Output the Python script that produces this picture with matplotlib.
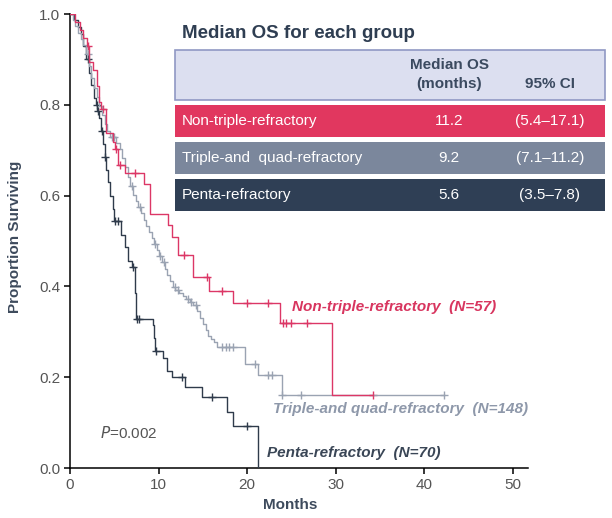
import numpy as np
import matplotlib
matplotlib.use("Agg")
import matplotlib.pyplot as plt
from matplotlib.patches import Rectangle

plt.rcParams['font.family'] = ['Liberation Sans', 'DejaVu Sans']

# Kaplan-Meier steps (months, proportion surviving)
red_t = [0, 0.6, 1.1, 1.5, 1.9, 2.2, 2.6, 3.0, 3.3, 3.5, 4.1, 4.8, 5.1, 5.4, 6.2,
         8.4, 9.0, 11.1, 11.5, 12.2, 13.9, 15.7, 18.4, 23.7, 29.6]
red_s = [1.0, 0.982, 0.965, 0.947, 0.930, 0.895, 0.877, 0.842, 0.807, 0.790, 0.737,
         0.719, 0.702, 0.667, 0.649, 0.625, 0.560, 0.535, 0.509, 0.470, 0.420, 0.390,
         0.363, 0.320, 0.160]
red_end = 34.2
red_cens = [2.0, 3.7, 5.2, 5.6, 7.3, 12.9, 15.5, 17.2, 20.0, 22.3, 24.1, 24.4, 25.0,
            26.8, 34.2]

gray_t = [0, 0.3, 0.6, 0.9, 1.2, 1.5, 1.8, 2.1, 2.4, 2.7, 3.0, 3.3, 3.6, 3.9, 4.2,
          4.5, 5.2, 5.6, 5.9, 6.2, 6.5, 6.8, 7.1, 7.4, 7.7, 8.0, 8.3, 8.6, 8.9, 9.2,
          9.5, 9.8, 10.1, 10.4, 10.7, 11.0, 11.3, 11.6, 11.9, 12.3, 12.7, 13.1, 13.5,
          13.9, 14.3, 14.7, 15.0, 15.3, 15.6, 15.9, 16.2, 16.6, 19.8, 21.2, 23.9]
gray_s = [1.0, 0.986, 0.973, 0.959, 0.946, 0.932, 0.912, 0.885, 0.858, 0.838, 0.818,
          0.797, 0.777, 0.757, 0.743, 0.730, 0.716, 0.703, 0.682, 0.662, 0.642, 0.622,
          0.601, 0.588, 0.574, 0.561, 0.547, 0.534, 0.520, 0.507, 0.493, 0.480, 0.466,
          0.453, 0.439, 0.426, 0.412, 0.399, 0.392, 0.385, 0.378, 0.372, 0.365, 0.358,
          0.345, 0.331, 0.318, 0.304, 0.291, 0.284, 0.277, 0.267, 0.230, 0.205, 0.160]
gray_end = 42.2
gray_cens = [2.0, 4.7, 5.0, 7.0, 7.9, 9.6, 10.2, 10.6, 11.8, 12.2, 13.3, 13.7, 14.2,
             17.2, 17.6, 18.0, 18.4, 20.9, 22.3, 22.8, 23.9, 26.1, 42.2]

penta_t = [0, 0.5, 0.9, 1.2, 1.5, 1.8, 2.1, 2.4, 2.7, 2.9, 3.1, 3.3, 3.5, 3.7, 3.9,
           4.1, 4.3, 4.5, 4.8, 5.0, 5.8, 6.2, 6.6, 7.0, 7.3, 7.5, 9.4, 9.5, 9.6, 10.5,
           11.0, 11.5, 13.0, 14.9, 17.7, 18.4, 21.2]
penta_s = [1.0, 0.986, 0.971, 0.957, 0.929, 0.900, 0.871, 0.843, 0.814, 0.800, 0.786,
           0.771, 0.743, 0.714, 0.686, 0.657, 0.629, 0.600, 0.571, 0.543, 0.514, 0.486,
           0.457, 0.443, 0.386, 0.329, 0.314, 0.286, 0.257, 0.243, 0.214, 0.200, 0.178,
           0.156, 0.124, 0.093, 0.0]
penta_end = 21.2
penta_cens = [2.0, 3.0, 3.2, 3.6, 3.95, 5.1, 5.4, 7.1, 7.6, 7.8, 9.7, 12.6, 16.0, 20.0]

# table
groups = ['Non-triple-refractory', 'Triple-and  quad-refractory', 'Penta-refractory']
medians = ['11.2', '9.2', '5.6']
cis = ['(5.4\u201317.1)', '(7.1\u201311.2)', '(3.5\u20137.8)']
curve_labels = ['Non-triple-refractory  (N=57)', 'Triple-and quad-refractory  (N=148)',
                'Penta-refractory  (N=70)']

line_cols = ['#dc3766', '#9aa3b2', '#2f3b4b']
row_cols = ['#e1375f', '#7b879c', '#2f3f55']
text_cols = ['#d8355f', '#8e98aa', '#3a4656']
label_pos = [(25.1, 0.355), (22.9, 0.13), (22.2, 0.033)]


def surv_at(t, times, surv):
    i = np.searchsorted(times, t, side='right') - 1
    return surv[i]


fig = plt.figure(figsize=(6.12, 5.18), dpi=100)
ax = fig.add_axes([70 / 612, 50 / 518, 458 / 612, 454 / 518])

curves = [(red_t, red_s, red_end, red_cens),
          (gray_t, gray_s, gray_end, gray_cens),
          (penta_t, penta_s, penta_end, penta_cens)]
for k, (tt, ss, tend, cens) in enumerate(curves):
    tt = np.array(tt + [tend])
    ss = np.array(ss + [ss[-1]])
    ax.step(tt, ss, where='post', color=line_cols[k], lw=1.0, zorder=3 - k * 0.1)
    cy = [surv_at(c, tt, ss) for c in cens]
    ax.plot(cens, cy, ls='none', marker='+', ms=6, mew=1.0, color=line_cols[k])
    ax.text(label_pos[k][0], label_pos[k][1], curve_labels[k], color=text_cols[k],
            fontsize=11, fontweight='bold', fontstyle='italic', ha='left', va='center')

ax.text(3.4, 0.077, r'$\it{P}$=0.002', fontsize=11, color='#555555',
        ha='left', va='center')

ax.set_xlim(0, 51.7)
ax.set_ylim(0, 1.0)
ax.set_xticks([0, 10, 20, 30, 40, 50])
ax.set_yticks([0.0, 0.2, 0.4, 0.6, 0.8, 1.0])
ax.set_yticklabels(['0.0', '0.2', '0.4', '0.6', '0.8', '1.0'])
for side in ['top', 'right']:
    ax.spines[side].set_visible(False)
for side in ['left', 'bottom']:
    ax.spines[side].set_linewidth(1.1)
ax.tick_params(length=4, width=1.1, labelsize=11, labelcolor='#555555', pad=3)
ax.set_xlabel('Months', fontsize=11, fontweight='bold', color='#3d4a5c')
ax.set_ylabel('Proportion Surviving', fontsize=11, fontweight='bold', color='#3d4a5c')
ax.xaxis.set_label_coords(0.48, -0.066)
ax.yaxis.set_label_coords(-0.105, 0.51)

# table overlay in pixel coords
tab = fig.add_axes([0, 0, 1, 1], zorder=5)
tab.set_xlim(0, 612)
tab.set_ylim(518, 0)
tab.axis('off')
tab.patch.set_alpha(0)

tab.text(182, 34, 'Median OS for each group', fontsize=13.5, fontweight='bold',
         color='#2f3e52', ha='left', va='center')
tab.add_patch(Rectangle((175, 50), 430, 50, facecolor='#dcdff0', edgecolor='#9098c4', lw=1.2))
tab.text(449, 65, 'Median OS', fontsize=11, fontweight='bold', color='#3b4a60',
         ha='center', va='center')
tab.text(449, 84, '(months)', fontsize=11, fontweight='bold', color='#3b4a60',
         ha='center', va='center')
tab.text(550, 84, '95% CI', fontsize=11, fontweight='bold', color='#3b4a60',
         ha='center', va='center')
row_y = [105, 142, 179]
for k in range(3):
    tab.add_patch(Rectangle((175, row_y[k]), 430, 32, facecolor=row_cols[k], edgecolor='none'))
    yc = row_y[k] + 16
    tab.text(182, yc, groups[k], fontsize=11, color='white', ha='left', va='center')
    tab.text(449, yc, medians[k], fontsize=11, color='white', ha='center', va='center')
    tab.text(550, yc, cis[k], fontsize=11, color='white', ha='center', va='center')

fig.savefig('out.png', dpi=100)
